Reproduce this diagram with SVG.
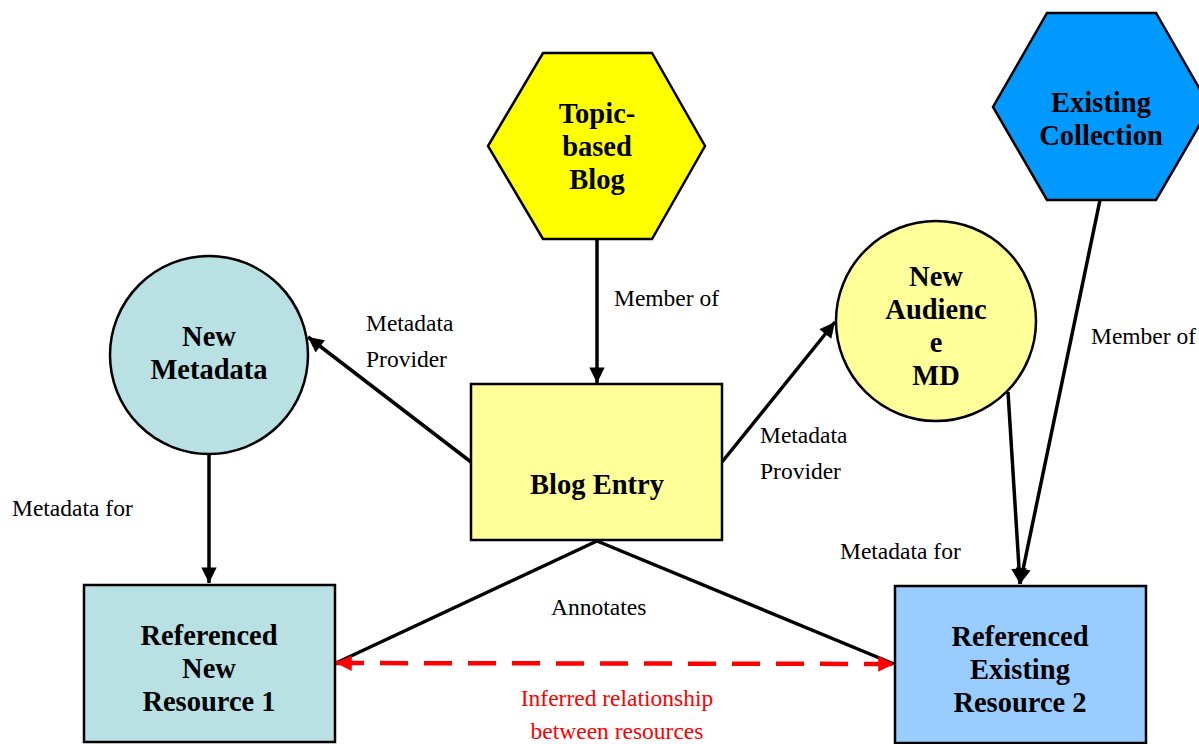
<svg xmlns="http://www.w3.org/2000/svg" width="1199" height="744" viewBox="0 0 1199 744">
<style>
.node{stroke:#000;stroke-width:2.5}
.b{font-family:"Liberation Serif",serif;font-weight:bold;font-size:28.5px;text-anchor:middle;fill:#000}
.l{font-family:"Liberation Serif",serif;font-size:23.5px;fill:#000}
.r{font-family:"Liberation Serif",serif;font-size:23.5px;fill:#FF0000;text-anchor:middle}
.c{stroke:#000;stroke-width:3.5;fill:none}
.d{stroke:#FF0000;stroke-width:4.5;fill:none;stroke-dasharray:28 16}
</style>
<defs>
<marker id="ah" viewBox="0 0 10 10" refX="10" refY="5" markerWidth="5" markerHeight="4.4" orient="auto" markerUnits="strokeWidth"><path d="M0,0 L10,5 L0,10 z" fill="#000"/></marker>
<marker id="rh" viewBox="0 0 10 10" refX="10" refY="5" markerWidth="4" markerHeight="3.5" orient="auto-start-reverse" markerUnits="strokeWidth"><path d="M0,0 L10,5 L0,10 z" fill="#FF0000"/></marker>
</defs>
<rect width="1199" height="744" fill="#fff"/>
<g id="connectors">
<line class="c" x1="597" y1="240" x2="597" y2="383" marker-end="url(#ah)"/>
<line class="c" x1="471" y1="462" x2="308" y2="337" marker-end="url(#ah)"/>
<line class="c" x1="722" y1="462" x2="835" y2="322" marker-end="url(#ah)"/>
<line class="c" x1="209" y1="435" x2="209" y2="583" marker-end="url(#ah)"/>
<line class="c" x1="1008" y1="392" x2="1020" y2="584" marker-end="url(#ah)"/>
<line class="c" x1="1100" y1="200" x2="1020" y2="584" marker-end="url(#ah)"/>
<line class="c" x1="597" y1="541" x2="336" y2="663"/>
<line class="c" x1="597" y1="541" x2="894" y2="664"/>
<line class="d" x1="336" y1="663" x2="894" y2="664" marker-start="url(#rh)" marker-end="url(#rh)"/>
<text class="l" x="614" y="306">Member of</text>
<text class="l" x="366" y="331">Metadata</text>
<text class="l" x="366" y="367">Provider</text>
<text class="l" x="760" y="443">Metadata</text>
<text class="l" x="760" y="479">Provider</text>
<text class="l" x="12" y="516">Metadata for</text>
<text class="l" x="840" y="559">Metadata for</text>
<text class="l" x="1091" y="344">Member of</text>
<text class="l" x="551" y="615">Annotates</text>
<text class="r" x="617" y="706">Inferred relationship</text>
<text class="r" x="617" y="739">between resources</text>
</g>
<g id="topic-blog">
<polygon class="node" fill="#FFFF00" points="543,53 652,53 705,146 652,239 543,239 488,146"/>
<text class="b" x="597" y="123">Topic-</text>
<text class="b" x="597" y="156">based</text>
<text class="b" x="597" y="189">Blog</text>
</g>
<g id="existing-collection">
<polygon class="node" fill="#0099FF" points="1047,13 1156,13 1210,107 1156,200 1047,200 993,107"/>
<text class="b" x="1101" y="112">Existing</text>
<text class="b" x="1101" y="145">Collection</text>
</g>
<g id="new-metadata">
<circle class="node" fill="#B9E0E3" cx="209" cy="355" r="99"/>
<text class="b" x="209" y="346">New</text>
<text class="b" x="209" y="379">Metadata</text>
</g>
<g id="new-audience-md">
<circle class="node" fill="#FFFF99" cx="936" cy="321" r="100"/>
<text class="b" x="936" y="286">New</text>
<text class="b" x="936" y="319">Audienc</text>
<text class="b" x="936" y="352">e</text>
<text class="b" x="936" y="385">MD</text>
</g>
<g id="blog-entry">
<rect class="node" fill="#FFFF99" x="471" y="384" width="251" height="156"/>
<text class="b" x="597" y="494">Blog Entry</text>
</g>
<g id="resource-1">
<rect class="node" fill="#B9E0E3" x="84" y="585" width="251" height="157"/>
<text class="b" x="209" y="645">Referenced</text>
<text class="b" x="209" y="678">New</text>
<text class="b" x="209" y="711">Resource 1</text>
</g>
<g id="resource-2">
<rect class="node" fill="#99CCFF" x="895" y="586" width="251" height="157"/>
<text class="b" x="1020" y="646">Referenced</text>
<text class="b" x="1020" y="679">Existing</text>
<text class="b" x="1020" y="712">Resource 2</text>
</g>
</svg>
